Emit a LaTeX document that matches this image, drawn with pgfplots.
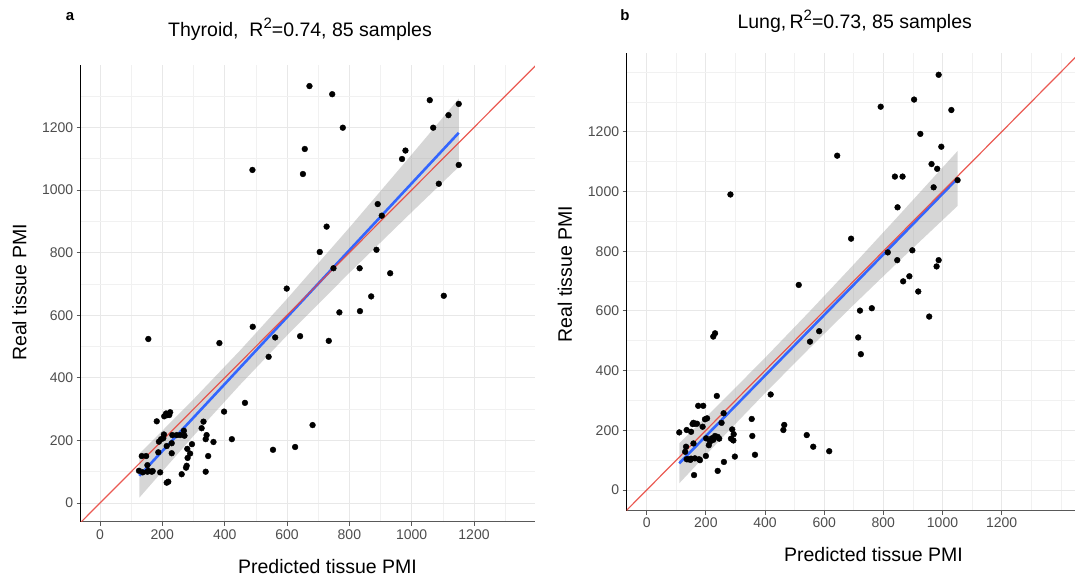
\documentclass[border=0pt]{standalone}
\usepackage{pgfplots}
\pgfplotsset{compat=1.18}
\usepackage{fontspec}
\setmainfont{Liberation Sans}
\definecolor{ribbon}{HTML}{999999}
\definecolor{smoothcol}{HTML}{3366FF}
\definecolor{ablinecol}{RGB}{232,72,64}
\definecolor{ticklab}{HTML}{4D4D4D}
\definecolor{gridmaj}{HTML}{E8E8E8}
\definecolor{gridmin}{HTML}{F1F1F1}
\pgfplotsset{
 panel/.style={
  scale only axis,
  anchor=south west,
  axis lines*=left,
  axis line style={-},
  x axis line style={draw=black!65, line width=0.8pt},
  y axis line style={draw=black, line width=0.9pt},
  tick align=outside,
  major tick length=4pt,
  minor tick length=0pt,
  tick style={draw=black!65, line width=0.8pt},
  xtick={0,200,...,1200}, ytick={0,200,...,1200},
  grid=both,
  major grid style={draw=gridmaj, line width=0.8pt},
  minor grid style={draw=gridmin, line width=0.6pt},
  ticklabel style={font=\fontsize{14}{16}\selectfont, text=ticklab},
  /pgf/number format/assume math mode=true,
  /pgf/number format/1000 sep={},
  clip=true,
 }
}
\begin{document}
\begin{tikzpicture}
\path[use as bounding box] (0,0) rectangle (1075pt,583pt);
% ---------------- panel a ----------------
\begin{axis}[panel, at={(80.7pt,61.2pt)}, width=454.1pt, height=456.7pt,
  xmin=-62, xmax=1395, ymin=-60, ymax=1399,
  minor xtick={100,300,...,1300}, minor ytick={100,300,...,1300}]
\addplot[only marks, mark=*, mark size=2.9pt, black] coordinates {
(489,1064) (599,685) (672,1332) (745,1306) (1058,1287) (1151,1275) (1118,1239)
(779,1199) (1069,1199) (657,1131) (980,1126) (969,1099) (651,1051) (1151,1080)
(1087,1020) (891,955) (727,883) (705,802) (887,809) (833,750) (931,734)
(870,660) (1103,662) (768,609) (834,613) (642,533) (734,518) (682,249)
(904,918) (749,750)
(155,524) (490,563) (383,511) (562,529) (541,467) (465,320) (398,292)
(182,261) (206,277) (216,281) (225,290) (222,281) (332,260) (326,239)
(342,217) (339,204) (364,195) (423,204) (295,188) (280,173) (289,158)
(281,144) (278,119) (276,113) (262,92) (347,150) (339,100) (214,65)
(219,68) (555,170) (626,179) (271,215) (246,217) (232,217) (205,219)
(196,204) (189,196) (214,182) (230,159) (187,162) (134,150) (148,150)
(152,121) (152,100) (166,100) (193,98) (125,103) (137,98)
(212,286) (257,217) (203,207) (230,191) (169,102) (155,103) (269,231)
};
\addplot[draw=none, fill=ribbon, fill opacity=0.4] coordinates {
(126,157) (300,331.4) (450,488.2) (600,652.1) (800,879.7) (1000,1113.3) (1151,1291.7)
(1151,1073.7) (1000,929.3) (800,735.3) (600,535.3) (450,378.6) (300,214.6) (126,17)
};
\addplot[smoothcol, line width=2.6pt] coordinates {(126,87) (1151,1182.7)};
\addplot[ablinecol, line width=1.2pt, opacity=0.9] coordinates {(-200,-200) (1600,1600)};
\end{axis}
% ---------------- panel b ----------------
\begin{axis}[panel, at={(626.6pt,72.4pt)}, width=448.4pt, height=457.3pt,
  xmin=-68, xmax=1448, ymin=-69, ymax=1463,
  minor xtick={100,300,...,1300,1400}, minor ytick={100,300,...,1300,1400}]
\addplot[only marks, mark=*, mark size=2.9pt, black] coordinates {
(283,990) (644,1120) (514,687) (987,1391) (791,1284) (904,1308) (1030,1273)
(925,1193) (996,1150) (963,1092) (982,1076) (839,1050) (865,1050) (1051,1038)
(970,1014) (848,947) (691,842) (815,796) (898,803) (847,770) (987,770)
(980,749) (888,716) (867,699) (918,665) (721,601) (761,609) (955,581)
(715,511) (724,455) (583,532) (552,497) (231,525) (225,514) (237,315)
(419,320) (174,282) (191,282) (355,238) (260,257) (465,218) (462,201)
(541,184) (563,145) (617,130) (357,181) (366,118) (298,112) (261,94)
(240,64) (160,50) (110,193) (135,201) (150,195) (158,225) (163,222)
(170,222) (155,221) (197,237) (204,240) (189,212) (289,203) (294,187)
(285,172) (293,166) (231,181) (220,173) (225,168) (201,173) (214,162)
(158,156) (133,145) (130,128) (200,114) (140,103) (150,105) (163,106)
(177,103) (180,100) (253,225) (240,178) (210,150) (148,101) (135,103)
(245,172)
};
\addplot[draw=none, fill=ribbon, fill opacity=0.4] coordinates {
(110,156.4) (250,292.9) (400,442.9) (550,597.4) (700,755.7) (850,917.1) (1051,1135.7)
(1051,951.7) (850,763.9) (700,620.7) (550,474.6) (400,324.5) (250,170.1) (110,22.4)
};
\addplot[smoothcol, line width=2.6pt] coordinates {(110,89.3) (1051,1044)};
\addplot[ablinecol, line width=1.2pt, opacity=0.9] coordinates {(-200,-200) (1600,1600)};
\end{axis}
% ---------------- texts ----------------
\node[font=\bfseries\fontsize{15}{17}\selectfont, anchor=base] at (70pt,562.3pt) {a};
\node[font=\bfseries\fontsize{15}{17}\selectfont, anchor=base] at (625pt,562.3pt) {b};
\node[font=\fontsize{19.5}{22}\selectfont, anchor=base] at (300pt,546.3pt)
  {Thyroid,\ \ R\raisebox{8pt}{\fontsize{15}{17}\selectfont 2}=0.74, 85 samples};
\node[font=\fontsize{19.5}{22}\selectfont, anchor=base] at (854.7pt,554.7pt)
  {Lung,\,R\raisebox{8pt}{\fontsize{15}{17}\selectfont 2}=0.73, 85 samples};
\node[font=\fontsize{19.5}{22}\selectfont, anchor=center] at (327.5pt,16.3pt) {Predicted tissue PMI};
\node[font=\fontsize{19.5}{22}\selectfont, anchor=center] at (873.5pt,28pt) {Predicted tissue PMI};
\node[font=\fontsize{19.5}{22}\selectfont, anchor=center, rotate=90] at (19.5pt,290.5pt) {Real tissue PMI};
\node[font=\fontsize{19.5}{22}\selectfont, anchor=center, rotate=90] at (565pt,309pt) {Real tissue PMI};
\end{tikzpicture}
\end{document}
